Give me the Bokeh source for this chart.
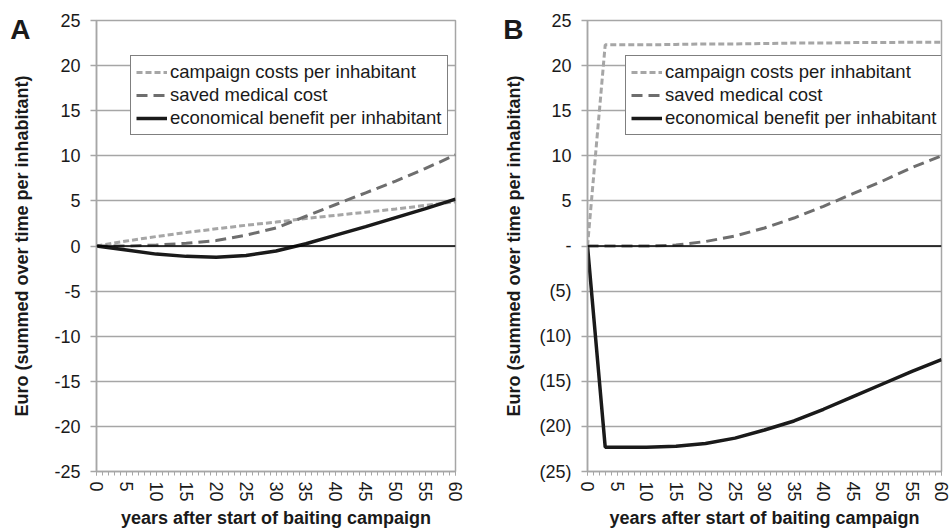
from bokeh.plotting import figure
from bokeh.layouts import row
from bokeh.models import Range1d, FixedTicker, Span, Legend, LegendItem, LinearAxis
from bokeh.embed import file_html
from bokeh.resources import INLINE

# ---- data ----
years_a = [0, 5, 10, 15, 20, 25, 30, 35, 40, 45, 50, 55, 60]
campaign_a = [0, 0.55, 1.05, 1.5, 1.9, 2.3, 2.65, 3.05, 3.4, 3.75, 4.1, 4.5, 4.9]
saved_a = [0, 0.0, 0.1, 0.3, 0.6, 1.2, 2.0, 3.3, 4.6, 5.9, 7.2, 8.6, 10.1]
benefit_a = [0, -0.45, -0.9, -1.15, -1.25, -1.05, -0.55, 0.25, 1.2, 2.15, 3.15, 4.15, 5.2]

years_b = [0, 3, 5, 10, 15, 20, 25, 30, 35, 40, 45, 50, 55, 60]
campaign_b = [0, 22.3, 22.3, 22.3, 22.35, 22.4, 22.4, 22.45, 22.5, 22.5, 22.55, 22.55, 22.6, 22.6]
saved_b = [0, 0, 0, 0, 0.1, 0.5, 1.1, 2.0, 3.1, 4.4, 5.8, 7.2, 8.7, 10.0]
benefit_b = [0, -22.3, -22.3, -22.3, -22.2, -21.9, -21.3, -20.4, -19.4, -18.1, -16.7, -15.3, -13.9, -12.6]

y_ticks = [-25, -20, -15, -10, -5, 0, 5, 10, 15, 20, 25]
y_labels_a = ["-25", "-20", "-15", "-10", "-5", "0", "5", "10", "15", "20", "25"]
y_labels_b = ["(25)", "(20)", "(15)", "(10)", "(5)", "-", "5", "10", "15", "20", "25"]
x_ticks = list(range(0, 61, 5))
x_minor = list(range(0, 61))

series_names = ["campaign costs per inhabitant", "saved medical cost",
                "economical benefit per inhabitant"]
x_title = "years after start of baiting campaign"
y_title = "Euro (summed over time per inhabitant)"
panel_letters = ["A", "B"]

FONT = "Liberation Sans"
GRID = "#a6a6a6"
TXT = "#1a1a1a"
FRAME_H = 451
LEGEND_H = 78


def make_panel(letter, years, campaign, saved, benefit, ylabels, width,
               b_left, b_right, title_standoff, legend_x, letter_standoff):
    p = figure(width=width, height=530, x_range=Range1d(0, 60), y_range=Range1d(-25, 25),
               output_backend="svg", toolbar_location=None,
               min_border_left=b_left, min_border_right=b_right,
               min_border_top=20, min_border_bottom=5)
    p.background_fill_color = "white"
    p.border_fill_color = "white"
    p.outline_line_color = GRID
    p.outline_line_width = 1.5

    p.xgrid.visible = False
    p.ygrid.ticker = FixedTicker(ticks=y_ticks)
    p.ygrid.grid_line_color = GRID
    p.ygrid.grid_line_width = 1.5

    # y axis
    ya = p.yaxis[0]
    ya.ticker = FixedTicker(ticks=y_ticks, minor_ticks=[])
    ya.major_label_overrides = dict(zip(y_ticks, ylabels))
    ya.axis_line_color = GRID
    ya.axis_line_width = 1.5
    ya.major_tick_line_color = GRID
    ya.major_tick_line_width = 1.5
    ya.major_tick_out = 6
    ya.major_tick_in = 0
    ya.minor_tick_line_color = None
    ya.major_label_standoff = 10
    ya.major_label_text_font = FONT
    ya.major_label_text_font_size = "18px"
    ya.major_label_text_color = TXT
    ya.axis_label = y_title
    ya.axis_label_text_font = FONT
    ya.axis_label_text_font_size = "18px"
    ya.axis_label_text_font_style = "bold"
    ya.axis_label_text_color = TXT
    ya.axis_label_standoff = title_standoff

    # panel letter, drawn as the only tick label of an outer, line-less axis
    la = LinearAxis(ticker=FixedTicker(ticks=[24], minor_ticks=[]),
                    major_label_overrides={24: letter},
                    axis_line_color=None, major_tick_line_color=None,
                    minor_tick_line_color=None, major_tick_out=0, major_tick_in=0,
                    minor_tick_out=0, minor_tick_in=0,
                    major_label_standoff=letter_standoff,
                    major_label_text_font=FONT, major_label_text_font_size="28px",
                    major_label_text_font_style="bold", major_label_text_color=TXT)
    p.add_layout(la, "left")

    # x axis
    xa = p.xaxis[0]
    xa.ticker = FixedTicker(ticks=x_ticks, minor_ticks=x_minor)
    xa.axis_line_color = GRID
    xa.axis_line_width = 1.5
    xa.major_tick_line_color = GRID
    xa.minor_tick_line_color = GRID
    xa.major_tick_out = 4
    xa.major_tick_in = 0
    xa.minor_tick_out = 4
    xa.minor_tick_in = 0
    xa.major_label_orientation = "vertical"
    xa.major_label_standoff = 6
    xa.major_label_text_font = FONT
    xa.major_label_text_font_size = "18px"
    xa.major_label_text_color = TXT
    xa.axis_label = x_title
    xa.axis_label_text_font = FONT
    xa.axis_label_text_font_size = "18px"
    xa.axis_label_text_font_style = "bold"
    xa.axis_label_text_color = TXT
    xa.axis_label_standoff = 3

    p.add_layout(Span(location=0, dimension="width", line_color="#000000", line_width=1.3))

    r1 = p.line(years, campaign, line_color="#a6a6a6", line_width=3, line_dash="6 3")
    r2 = p.line(years, saved, line_color="#6e6e6e", line_width=3, line_dash="11 6")
    r3 = p.line(years, benefit, line_color="#1a1a1a", line_width=3.5)

    legend = Legend(items=[LegendItem(label=series_names[0], renderers=[r1]),
                           LegendItem(label=series_names[1], renderers=[r2]),
                           LegendItem(label=series_names[2], renderers=[r3])],
                    location=(legend_x, FRAME_H - 37 - LEGEND_H))
    legend.border_line_color = "#000000"
    legend.border_line_width = 1.5
    legend.background_fill_color = "white"
    legend.background_fill_alpha = 1
    legend.label_text_font = FONT
    legend.label_text_font_size = "18.5px"
    legend.label_text_color = TXT
    legend.label_height = 20
    legend.glyph_height = 20
    legend.glyph_width = 31
    legend.label_standoff = 3
    legend.spacing = 1
    legend.padding = 5
    legend.margin = 0
    p.add_layout(legend)
    return p


pa = make_panel(panel_letters[0], years_a, campaign_a, saved_a, benefit_a, y_labels_a,
                width=472, b_left=96, b_right=17, title_standoff=19,
                legend_x=34, letter_standoff=-21)
pb = make_panel(panel_letters[1], years_b, campaign_b, saved_b, benefit_b, y_labels_b,
                width=480, b_left=115, b_right=11, title_standoff=12,
                legend_x=38, letter_standoff=-22)

layout = row(pa, pb)
open("out.html", "w").write(file_html(layout, INLINE))
